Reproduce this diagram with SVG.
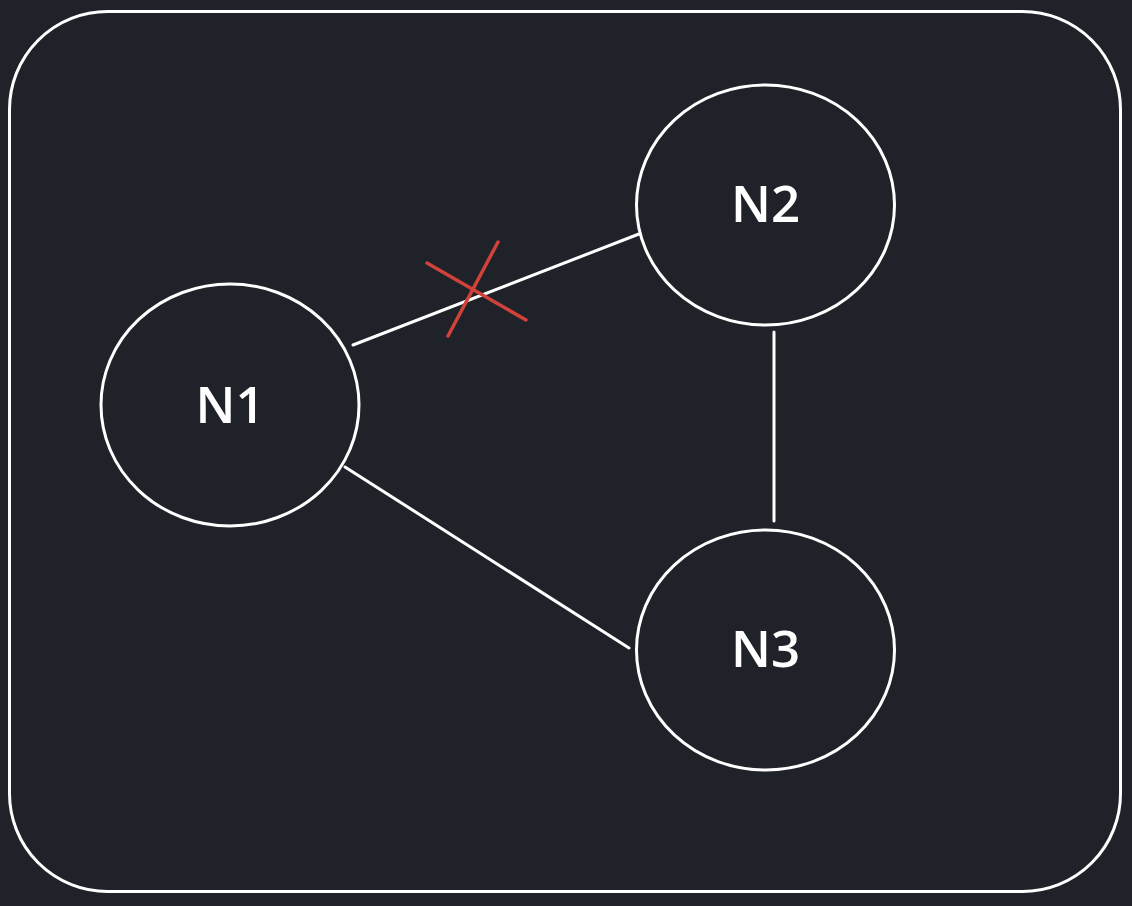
<svg xmlns="http://www.w3.org/2000/svg" width="1132" height="906" viewBox="0 0 1132 906">
<style>
.node{fill:none;stroke:#ffffff;stroke-width:3}
.lbl{fill:#ffffff;font-family:"Open Sans","DejaVu Sans",sans-serif;font-size:51px;font-weight:600;text-anchor:middle}
.edge{stroke:#ffffff;stroke-width:3;stroke-linecap:round}
.cross{stroke:#d0423a;stroke-width:3.5;stroke-linecap:round}
</style>
<rect width="1132" height="906" fill="#1f2228"/>
<rect x="9.5" y="11.5" width="1111" height="880" rx="98" ry="98" fill="none" stroke="#ffffff" stroke-width="3"/>
<g id="connectors">
<line class="edge" x1="353" y1="345" x2="639" y2="234"/>
<line class="edge" x1="774" y1="332" x2="774" y2="521"/>
<line class="edge" x1="345" y1="467" x2="629" y2="648"/>
<line class="cross" x1="427" y1="263" x2="526" y2="320"/>
<line class="cross" x1="448" y1="336" x2="498" y2="242"/>
</g>
<g id="N1">
<ellipse class="node" cx="230" cy="405" rx="129" ry="121"/>
<text class="lbl" x="230" y="423">N1</text>
</g>
<g id="N2">
<ellipse class="node" cx="765.5" cy="205" rx="129" ry="120"/>
<text class="lbl" x="765.5" y="222">N2</text>
</g>
<g id="N3">
<ellipse class="node" cx="765.5" cy="650" rx="129" ry="120"/>
<text class="lbl" x="765.5" y="667">N3</text>
</g>
</svg>
